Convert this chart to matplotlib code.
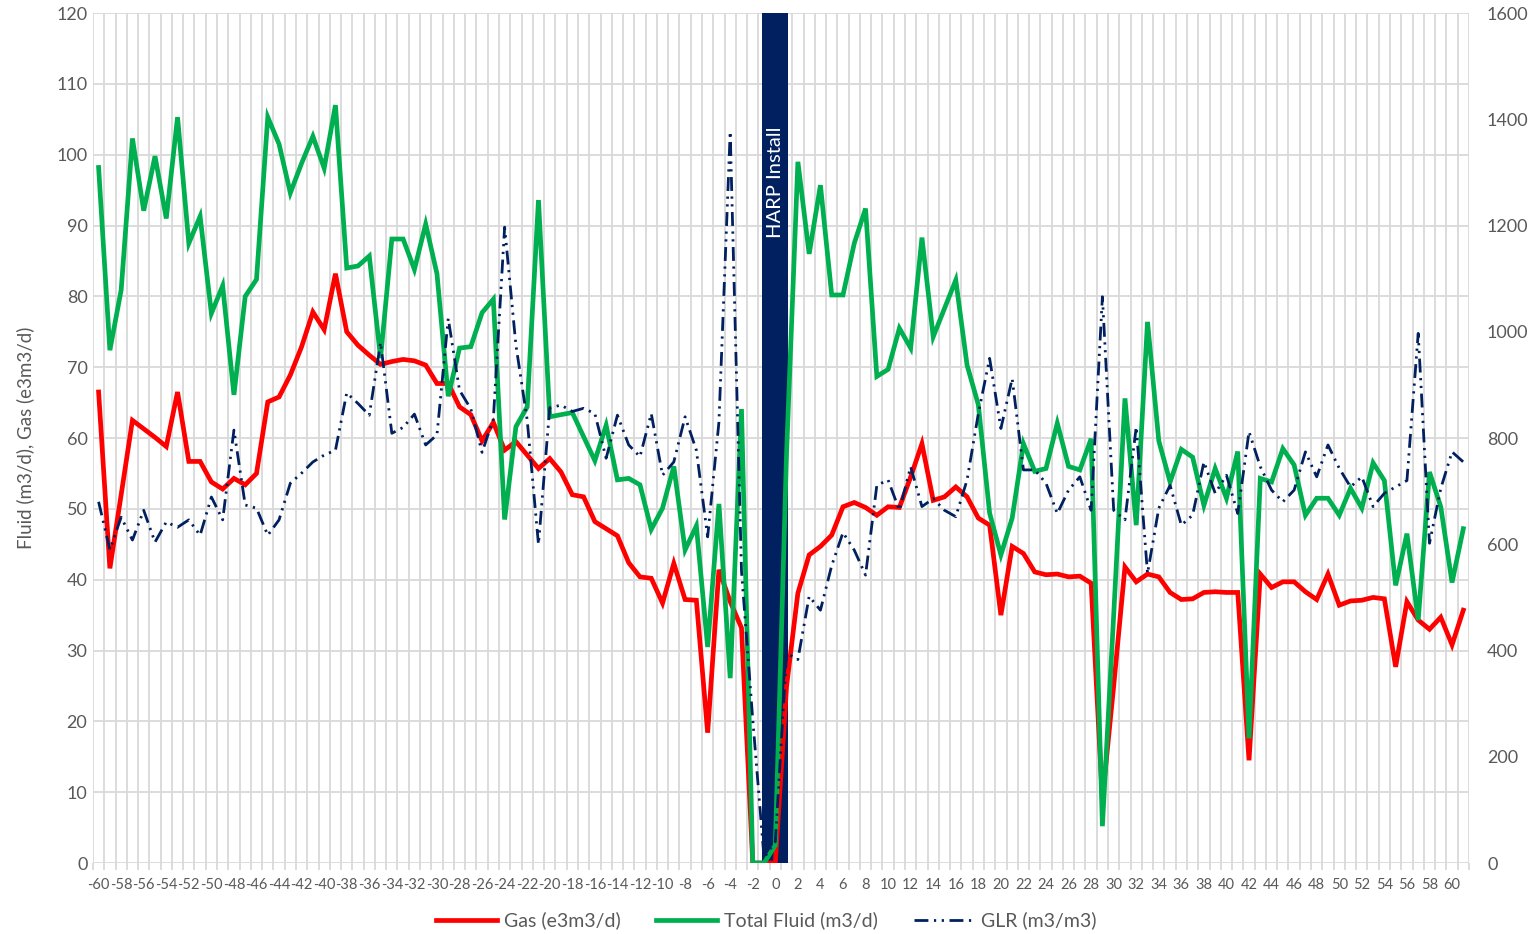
import matplotlib
matplotlib.use("Agg")
import matplotlib.pyplot as plt
from matplotlib.ticker import FixedLocator
import numpy as np

plt.rcParams["font.family"] = ["Lato", "DejaVu Sans"]

# ── data (days relative to HARP install) ───────────────────────
days = list(range(-60, 62))

gas = [66.5, 41.6, 52.0, 62.5, 61.3, 60.1, 58.8, 66.5, 56.7, 56.7,
       53.8, 52.8, 54.3, 53.4, 55.0, 65.1, 65.8, 68.9, 72.9, 77.8,
       75.3, 83.2, 75.0, 73.1, 71.7, 70.4, 70.8, 71.1, 70.9, 70.3,
       67.7, 67.7, 64.4, 63.3, 59.6, 62.2, 58.3, 59.5, 57.6, 55.7,
       57.1, 55.2, 52.0, 51.7, 48.2, 47.2, 46.2, 42.4, 40.4, 40.2,
       36.7, 42.3, 37.2, 37.1, 18.4, 41.4, 36.9, 33.2, 0.0, 0.0,
       0.0, 25.0, 38.1, 43.5, 44.7, 46.3, 50.3, 50.9, 50.2, 49.1,
       50.3, 50.2, 54.5, 59.2, 51.2, 51.7, 53.1, 51.7, 48.7, 47.7,
       35.0, 44.7, 43.7, 41.1, 40.7, 40.8, 40.4, 40.5, 39.5, 9.0,
       25.0, 41.8, 39.7, 40.8, 40.4, 38.2, 37.2, 37.3, 38.2, 38.3,
       38.2, 38.2, 14.5, 40.8, 38.9, 39.7, 39.7, 38.3, 37.2, 40.8,
       36.4, 37.0, 37.1, 37.5, 37.3, 27.7, 36.9, 34.3, 33.0, 34.7,
       30.8, 35.7]

fluid = [98.2, 72.4, 80.9, 102.3, 92.1, 99.8, 91.0, 105.3, 87.5, 91.3,
         77.6, 81.5, 66.1, 80.0, 82.4, 105.3, 101.5, 94.6, 98.8, 102.6,
         98.1, 107.0, 84.0, 84.3, 85.7, 71.3, 88.1, 88.1, 83.8, 90.2,
         83.2, 65.9, 72.7, 72.9, 77.7, 79.6, 48.5, 61.6, 64.4, 93.6,
         63.0, 63.3, 63.6, 60.2, 56.8, 61.8, 54.1, 54.3, 53.4, 47.1,
         50.1, 56.0, 44.2, 47.6, 30.5, 50.7, 26.1, 64.1, 0.0, 0.0,
         2.5, 58.0, 99.0, 86.0, 95.7, 80.2, 80.2, 87.5, 92.4, 68.7,
         69.7, 75.5, 72.7, 88.3, 74.3, 78.3, 82.3, 70.3, 64.7, 49.4,
         43.5, 48.7, 59.2, 55.3, 55.7, 62.1, 56.0, 55.5, 59.9, 5.2,
         35.0, 65.6, 47.7, 76.4, 59.6, 53.8, 58.4, 57.3, 50.5, 55.7,
         51.5, 58.1, 17.6, 54.3, 53.8, 58.5, 56.2, 49.1, 51.5, 51.5,
         49.1, 52.9, 50.1, 56.5, 54.0, 39.2, 46.5, 34.3, 55.2, 50.3,
         39.6, 47.2]

glr = [680, 590, 651, 608, 664, 604, 642, 632, 646, 617,
       689, 646, 815, 674, 668, 617, 646, 715, 734, 755,
       768, 777, 885, 865, 843, 980, 809, 820, 845, 787,
       806, 1025, 890, 855, 773, 836, 1197, 975, 834, 600,
       857, 862, 850, 856, 846, 762, 843, 787, 765, 846,
       730, 755, 840, 777, 614, 830, 1377, 550, 270, 10,
       40, 395, 383, 502, 476, 560, 622, 589, 542, 711,
       721, 664, 746, 671, 686, 664, 652, 721, 846, 950,
       818, 912, 740, 740, 715, 658, 702, 727, 664, 1066,
       664, 646, 821, 545, 668, 711, 636, 655, 755, 696,
       730, 658, 812, 746, 702, 680, 702, 774, 727, 787,
       743, 708, 727, 671, 696, 708, 720, 997, 602, 705,
       774, 755]

install_day = 0
install_label = "HARP Install"

RED = "#FF0000"
GREEN = "#00B050"
NAVY = "#002060"
GRID = "#D9D9D9"
TXT = "#595959"

# ── figure ─────────────────────────────────────────────────────
fig = plt.figure(figsize=(15.34, 9.34), dpi=100)
ax = fig.add_axes([0.0606, 0.076, 0.897, 0.910])
ax2 = ax.twinx()

ax.set_xlim(-60.5, 61.5)
ax.set_ylim(0, 120)
ax2.set_ylim(0, 1600)

# install marker
ax.bar(install_day, 120, width=2.3, color=NAVY, zorder=2)
ax.text(install_day, 104.0, install_label, rotation=90, ha="center", va="top",
        color="white", fontsize=14.5, zorder=2.5)

gas_line, = ax.plot(days, gas, color=RED, lw=3.4, zorder=3,
                    solid_joinstyle="miter", label="Gas (e3m3/d)")
fluid_line, = ax.plot(days, fluid, color=GREEN, lw=3.4, zorder=4,
                      solid_joinstyle="miter", label="Total Fluid (m3/d)")
glr_line, = ax2.plot(days, glr, color=NAVY, lw=2.0,
                     dashes=(5, 2, 0.8, 2, 0.8, 2),
                     label="GLR (m3/m3)")

# grid / ticks
ax.set_axisbelow(True)
ax.set_yticks(np.arange(0, 121, 10))
ax.yaxis.grid(True, color=GRID, lw=1.3)
ax.xaxis.set_minor_locator(FixedLocator(np.arange(-60.5, 62, 1)))
ax.xaxis.grid(True, which="minor", color=GRID, lw=1.3)
ax.set_xticks(days[:-1:2])
ax.set_xticklabels([str(d) for d in days[:-1:2]])
ax.tick_params(axis="x", which="major", length=0, pad=11, labelsize=10.5,
               colors=TXT)
ax.tick_params(axis="x", which="minor", length=5, color=GRID, width=1.3)
ax.tick_params(axis="y", length=0, pad=4, labelsize=13, colors=TXT)
ax2.set_yticks(np.arange(0, 1601, 200))
ax2.tick_params(axis="y", length=0, pad=13, labelsize=13, colors=TXT)

for a in (ax, ax2):
    for s in a.spines.values():
        s.set_visible(False)

ax.set_ylabel("Fluid (m3/d), Gas (e3m3/d)", fontsize=13.5, color=TXT,
              labelpad=16)

fig.legend(handles=[gas_line, fluid_line, glr_line], loc="center",
           bbox_to_anchor=(0.4996, 0.0145), ncol=3, frameon=False,
           fontsize=14, handlelength=3.1, handletextpad=0.36,
           columnspacing=1.85, labelcolor=TXT)

fig.savefig("out.png", dpi=100)
